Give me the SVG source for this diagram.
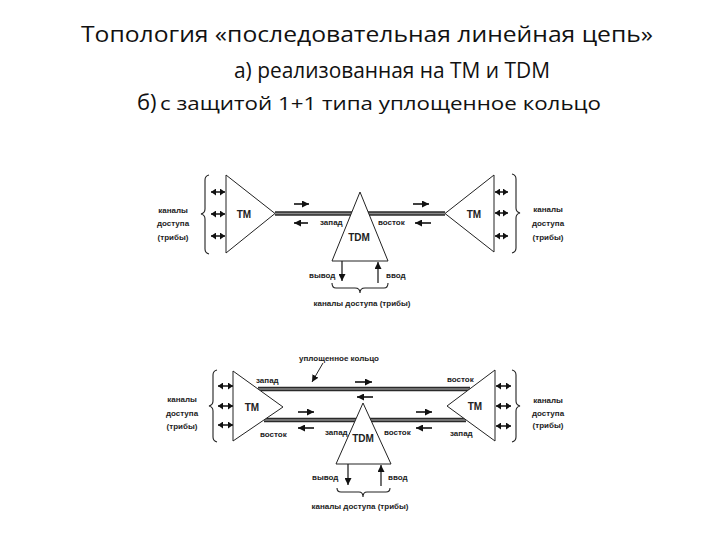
<svg xmlns="http://www.w3.org/2000/svg" width="720" height="540" viewBox="0 0 720 540">
<style>
.title{font-family:"Open Sans","Liberation Sans",sans-serif;fill:#111}
.tri{fill:#fff;stroke:#222;stroke-width:1}
.lbl{font-family:"Liberation Sans",Arial,sans-serif;font-size:8px;font-weight:bold;fill:#222}
.lblc{font-family:"Liberation Sans",Arial,sans-serif;font-size:8px;font-weight:bold;fill:#222;text-anchor:middle}
.node{font-family:"Liberation Sans",Arial,sans-serif;font-size:10px;font-weight:bold;fill:#222;text-anchor:middle}
.bar{stroke:#2a2a2a;stroke-width:4.5;fill:none}
.barin{stroke:#8a8a8a;stroke-width:1.5;fill:none}
.dir{stroke:#111;stroke-width:1.6;fill:none;marker-end:url(#ah)}
.dbl{stroke:#111;stroke-width:1.5;fill:none;marker-start:url(#ah2);marker-end:url(#ah2)}
.vert{stroke:#111;stroke-width:1.2;fill:none;marker-end:url(#ah)}
.brace{stroke:#222;stroke-width:1.1;fill:none}
.thin{stroke:#222;stroke-width:1;fill:none;marker-end:url(#ah)}
</style>
<defs>
<marker id="ah" markerUnits="userSpaceOnUse" markerWidth="8" markerHeight="7" refX="7" refY="3.5" orient="auto"><path d="M0,0 L7,3.5 L0,7 z" fill="#111"/></marker>
<marker id="ah2" markerUnits="userSpaceOnUse" markerWidth="6" markerHeight="7" refX="5" refY="3.5" orient="auto-start-reverse"><path d="M0,0 L5,3.5 L0,7 z" fill="#111"/></marker>
</defs>
<rect width="720" height="540" fill="#fff"/>

<g id="title">
<text class="title" x="81" y="42" font-size="22" textLength="572" lengthAdjust="spacingAndGlyphs">Топология «последовательная линейная цепь»</text>
<text class="title" x="234" y="78" font-size="22" textLength="316" lengthAdjust="spacingAndGlyphs">а) реализованная на ТМ и TDM</text>
<text class="title" x="137" y="110" font-size="22">б)</text>
<text class="title" x="160" y="110" font-size="18" textLength="441" lengthAdjust="spacingAndGlyphs">с защитой 1+1 типа уплощенное кольцо</text>
</g>

<!-- ===== Diagram a ===== -->
<g id="connectors-a">
<line class="bar" x1="275" y1="213.5" x2="352" y2="213.5"/>
<line class="barin" x1="275" y1="213.5" x2="352" y2="213.5"/>
<line class="bar" x1="368" y1="213.5" x2="445" y2="213.5"/>
<line class="barin" x1="368" y1="213.5" x2="445" y2="213.5"/>
<line class="dir" x1="294" y1="204" x2="309" y2="204"/>
<line class="dir" x1="308" y1="223" x2="294" y2="223"/>
<line class="dir" x1="413" y1="204" x2="429" y2="204"/>
<line class="dir" x1="431" y1="223" x2="415" y2="223"/>
<line class="dbl" x1="211" y1="192" x2="225" y2="192"/>
<line class="dbl" x1="211" y1="214" x2="225" y2="214"/>
<line class="dbl" x1="211" y1="236" x2="225" y2="236"/>
<line class="dbl" x1="495" y1="192" x2="508" y2="192"/>
<line class="dbl" x1="495" y1="213" x2="508" y2="213"/>
<line class="dbl" x1="495" y1="236" x2="508" y2="236"/>
<line class="vert" x1="342" y1="261" x2="342" y2="281"/>
<line class="vert" x1="378" y1="283" x2="378" y2="262"/>
<path class="brace" d="M209,175 Q205,176 205,180 L205,209 Q205,213 201,214 Q205,215 205,219 L205,249 Q205,253 209,254"/>
<path class="brace" d="M512,174 Q516,175 516,179 L516,208 Q516,212 520,213 Q516,214 516,218 L516,248 Q516,252 512,253"/>
<path class="brace" d="M332,283 Q332,288 336,288 L355,288 Q360,288 360,293 Q360,288 365,288 L384,288 Q388,288 388,283"/>
</g>

<g id="tm-left-a">
<polygon class="tri" points="226,175 226,253 275,213.5"/>
<text class="node" x="244" y="218">TM</text>
<text class="lblc" x="173" y="213">каналы</text>
<text class="lblc" x="173" y="226">доступа</text>
<text class="lblc" x="173" y="240">(трибы)</text>
</g>
<g id="tdm-a">
<polygon class="tri" points="360,192 332,261 388,261"/>
<text class="node" x="359" y="241">TDM</text>
<text class="lbl" x="320" y="225">запад</text>
<text class="lbl" x="378" y="225">восток</text>
<text class="lbl" x="309" y="278">вывод</text>
<text class="lbl" x="386" y="278">ввод</text>
<text class="lblc" x="362" y="306">каналы доступа (трибы)</text>
</g>
<g id="tm-right-a">
<polygon class="tri" points="494,175 494,252 445,213.5"/>
<text class="node" x="474" y="218">TM</text>
<text class="lblc" x="548" y="212">каналы</text>
<text class="lblc" x="548" y="226">доступа</text>
<text class="lblc" x="548" y="240">(трибы)</text>
</g>

<!-- ===== Diagram b ===== -->
<g id="connectors-b">
<line class="bar" x1="258" y1="389" x2="470" y2="389"/>
<line class="barin" x1="258" y1="389" x2="470" y2="389"/>
<line class="bar" x1="264" y1="420" x2="356" y2="420"/>
<line class="barin" x1="264" y1="420" x2="356" y2="420"/>
<line class="bar" x1="370" y1="420" x2="466" y2="420"/>
<line class="barin" x1="370" y1="420" x2="466" y2="420"/>
<line class="dir" x1="355" y1="382" x2="372" y2="382"/>
<line class="dir" x1="373" y1="397" x2="357" y2="397"/>
<line class="dir" x1="298" y1="412" x2="314" y2="412"/>
<line class="dir" x1="314" y1="428" x2="298" y2="428"/>
<line class="dir" x1="416" y1="412" x2="432" y2="412"/>
<line class="dir" x1="432" y1="428" x2="416" y2="428"/>
<line class="thin" x1="323" y1="363" x2="312" y2="382"/>
<line class="dbl" x1="218" y1="386" x2="233" y2="386"/>
<line class="dbl" x1="218" y1="406" x2="233" y2="406"/>
<line class="dbl" x1="218" y1="425" x2="233" y2="425"/>
<line class="dbl" x1="496" y1="386" x2="511" y2="386"/>
<line class="dbl" x1="496" y1="406" x2="511" y2="406"/>
<line class="dbl" x1="496" y1="426" x2="511" y2="426"/>
<line class="vert" x1="348" y1="464" x2="348" y2="485"/>
<line class="vert" x1="381" y1="486" x2="381" y2="465"/>
<path class="brace" d="M217,370 Q213,371 213,375 L213,401 Q213,405 209,406 Q213,407 213,411 L213,437 Q213,441 217,442"/>
<path class="brace" d="M512,370 Q516,371 516,375 L516,401 Q516,405 520,406 Q516,407 516,411 L516,437 Q516,441 512,442"/>
<path class="brace" d="M337,488 Q337,492 341,492 L359,492 Q363,492 363,497 Q363,492 367,492 L386,492 Q390,492 390,488"/>
</g>

<g id="tm-left-b">
<polygon class="tri" points="233,371 233,441 283,407"/>
<text class="node" x="252" y="411">TM</text>
<text class="lbl" x="256" y="383">запад</text>
<text class="lbl" x="260" y="437">восток</text>
<text class="lblc" x="182" y="402">каналы</text>
<text class="lblc" x="182" y="416">доступа</text>
<text class="lblc" x="182" y="429">(трибы)</text>
</g>
<g id="ring-label">
<text class="lbl" x="299" y="361">уплощенное кольцо</text>
</g>
<g id="tdm-b">
<polygon class="tri" points="363,403 336,464 391,464"/>
<text class="node" x="363" y="442">TDM</text>
<text class="lbl" x="325" y="435">запад</text>
<text class="lbl" x="384" y="435">восток</text>
<text class="lbl" x="312" y="480">вывод</text>
<text class="lbl" x="388" y="480">ввод</text>
<text class="lblc" x="360" y="509">каналы доступа (трибы)</text>
</g>
<g id="tm-right-b">
<polygon class="tri" points="495,370 495,441 447,406"/>
<text class="node" x="475" y="410">TM</text>
<text class="lbl" x="447" y="382">восток</text>
<text class="lbl" x="450" y="436">запад</text>
<text class="lblc" x="548" y="403">каналы</text>
<text class="lblc" x="548" y="416">доступа</text>
<text class="lblc" x="548" y="428">(трибы)</text>
</g>
</svg>
